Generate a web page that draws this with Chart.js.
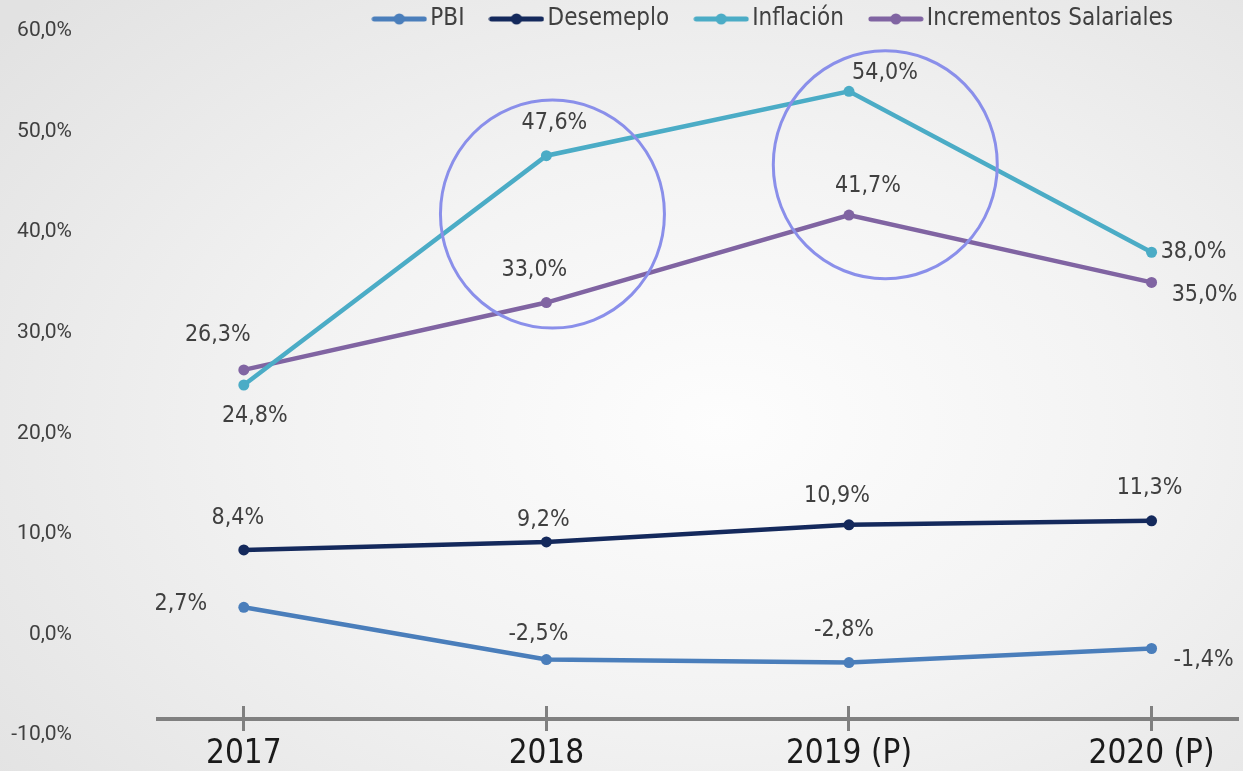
<!DOCTYPE html>
<html>
<head>
<meta charset="utf-8">
<script src="https://cdn.jsdelivr.net/npm/chart.js@4"></script>
<style>
  html, body { margin: 0; padding: 0; }
  body {
    width: 1243px; height: 771px; overflow: hidden;
    background: radial-gradient(ellipse 75% 80% at 58% 55%, #fdfdfd 0%, #f3f3f3 45%, #e2e2e2 100%);
  }
  canvas { display: block; }
</style>
</head>
<body>
<canvas id="chart" width="1243" height="771"></canvas>
<script>
// datos del grafico
const categories = ["2017", "2018", "2019 (P)", "2020 (P)"];
const pbi = [2.7, -2.5, -2.8, -1.4];
const desempleo = [8.4, 9.2, 10.9, 11.3];
const inflacion = [24.8, 47.6, 54.0, 38.0];
const incrementos = [26.3, 33.0, 41.7, 35.0];
const yTicks = [-10, 0, 10, 20, 30, 40, 50, 60];

// desplazamiento de cada etiqueta respecto a su punto (px)
const labelOffsets = [
  [[-63, -3], [-8, -26], [-5, -33], [52, 12]],
  [[-6, -32], [-3, -22], [-12, -29], [-2, -33]],
  [[11, 31], [8, -33], [36, -18], [42, 0]],
  [[-26, -35], [-12, -33], [19, -29], [53, 13]]
];

// circulos resaltados (centro en valores de los ejes, radio en px)
const highlights = [
  { x: 1.02, y: 41.8, rx: 112, ry: 114 },
  { x: 2.12, y: 46.7, rx: 112, ry: 114 }
];

const colors = ["#4a7ebb", "#14295c", "#4bacc6", "#8064a2"];
const names = ["PBI", "Desemeplo", "Inflación", "Incrementos Salariales"];
const series = [pbi, desempleo, inflacion, incrementos];

const fmt = v => v.toFixed(1).replace(".", ",") + "%";
const narrow = "'DejaVu Sans Condensed', 'Liberation Sans Narrow', sans-serif";

// marcador de la leyenda: linea con punto
function legendMarker(color) {
  const c = document.createElement("canvas");
  c.width = 56; c.height = 14;
  const g = c.getContext("2d");
  g.strokeStyle = color; g.lineWidth = 5; g.lineCap = "round";
  g.beginPath(); g.moveTo(3, 7); g.lineTo(53, 7); g.stroke();
  g.fillStyle = color;
  g.beginPath(); g.arc(28, 7, 5.5, 0, Math.PI * 2); g.fill();
  return c;
}

const dataLabels = {
  id: "dataLabels",
  afterDatasetsDraw(chart) {
    const ctx = chart.ctx;
    ctx.save();
    ctx.font = "23px " + narrow;
    ctx.fillStyle = "#404040";
    ctx.textAlign = "center";
    ctx.textBaseline = "middle";
    chart.data.datasets.forEach((ds, di) => {
      chart.getDatasetMeta(di).data.forEach((pt, i) => {
        const off = labelOffsets[di][i];
        ctx.fillText(fmt(series[di][i]), pt.x + off[0], pt.y + off[1]);
      });
    });
    ctx.restore();
  }
};

const circles = {
  id: "circles",
  afterDatasetsDraw(chart) {
    const ctx = chart.ctx;
    const xs = chart.scales.x, ys = chart.scales.y;
    ctx.save();
    ctx.strokeStyle = "#8a8fea";
    ctx.lineWidth = 3;
    highlights.forEach(h => {
      ctx.beginPath();
      ctx.ellipse(xs.getPixelForValue(h.x), ys.getPixelForValue(h.y), h.rx, h.ry, 0, 0, Math.PI * 2);
      ctx.stroke();
    });
    ctx.restore();
  }
};

// mueve la leyenda a su sitio sin quitar espacio al area del grafico
const legendShift = {
  id: "legendShift",
  afterLayout(chart) {
    const lg = chart.legend;
    lg.top += 10; lg.bottom += 10;
    lg.right -= 34;
  }
};

const categoryTicks = scale => {
  scale.ticks = categories.map((c, i) => ({ value: i }));
};
// los ejes x van dentro del area, no deben ocupar espacio
const noSpace = scale => {
  scale.height = 0;
  scale.paddingLeft = 0;
  scale.paddingRight = 0;
};

new Chart(document.getElementById("chart"), {
  type: "line",
  data: {
    datasets: series.map((vals, i) => ({
      label: names[i],
      data: vals.map((v, j) => ({ x: j, y: v })),
      borderColor: colors[i],
      backgroundColor: colors[i],
      pointBackgroundColor: colors[i],
      pointBorderWidth: 0,
      pointRadius: 5.5,
      borderWidth: 4.5,
      tension: 0
    }))
  },
  options: {
    responsive: false,
    animation: false,
    devicePixelRatio: 1,
    layout: { padding: { top: -36, right: 3, bottom: 36, left: 0 } },
    plugins: {
      tooltip: { enabled: false },
      legend: {
        position: "top",
        align: "end",
        labels: {
          usePointStyle: true,
          pointStyleWidth: 38,
          padding: 33,
          color: "#404040",
          font: { family: narrow, size: 24 },
          generateLabels: chart => chart.data.datasets.map((ds, i) => ({
            text: ds.label,
            pointStyle: legendMarker(colors[i]),
            fillStyle: colors[i],
            strokeStyle: colors[i],
            lineWidth: 0,
            fontColor: "#404040",
            datasetIndex: i
          }))
        }
      }
    },
    scales: {
      x: {
        type: "linear",
        min: -0.2836,
        max: 3.284,
        position: { y: -8.45 },
        afterBuildTicks: categoryTicks,
        afterFit: noSpace,
        grid: { drawOnChartArea: false, drawTicks: true, tickLength: 10, color: "#808080", lineWidth: 3 },
        border: { display: true, color: "#808080", width: 4 },
        ticks: {
          padding: 5,
          autoSkip: false,
          maxRotation: 0,
          color: "#1a1a1a",
          font: { family: narrow, size: 33 },
          callback: v => categories[v]
        }
      },
      x2: {
        type: "linear",
        axis: "x",
        min: -0.2836,
        max: 3.284,
        position: { y: -7.1 },
        afterBuildTicks: categoryTicks,
        afterFit: noSpace,
        grid: { drawOnChartArea: false, drawTicks: true, tickLength: 13, color: "#808080", lineWidth: 3 },
        border: { display: false },
        ticks: { display: false }
      },
      y: {
        min: -10,
        max: 60,
        afterBuildTicks: s => { s.ticks = yTicks.map(v => ({ value: v })); },
        afterFit: s => { s.width = 158; s.paddingTop = 0; s.paddingBottom = 0; },
        grid: { display: false, drawTicks: false },
        border: { display: false },
        ticks: {
          padding: 86,
          color: "#404040",
          font: { family: "Roboto, sans-serif", size: 21 },
          callback: v => fmt(v)
        }
      }
    }
  },
  plugins: [dataLabels, circles, legendShift]
});
</script>
</body>
</html>
